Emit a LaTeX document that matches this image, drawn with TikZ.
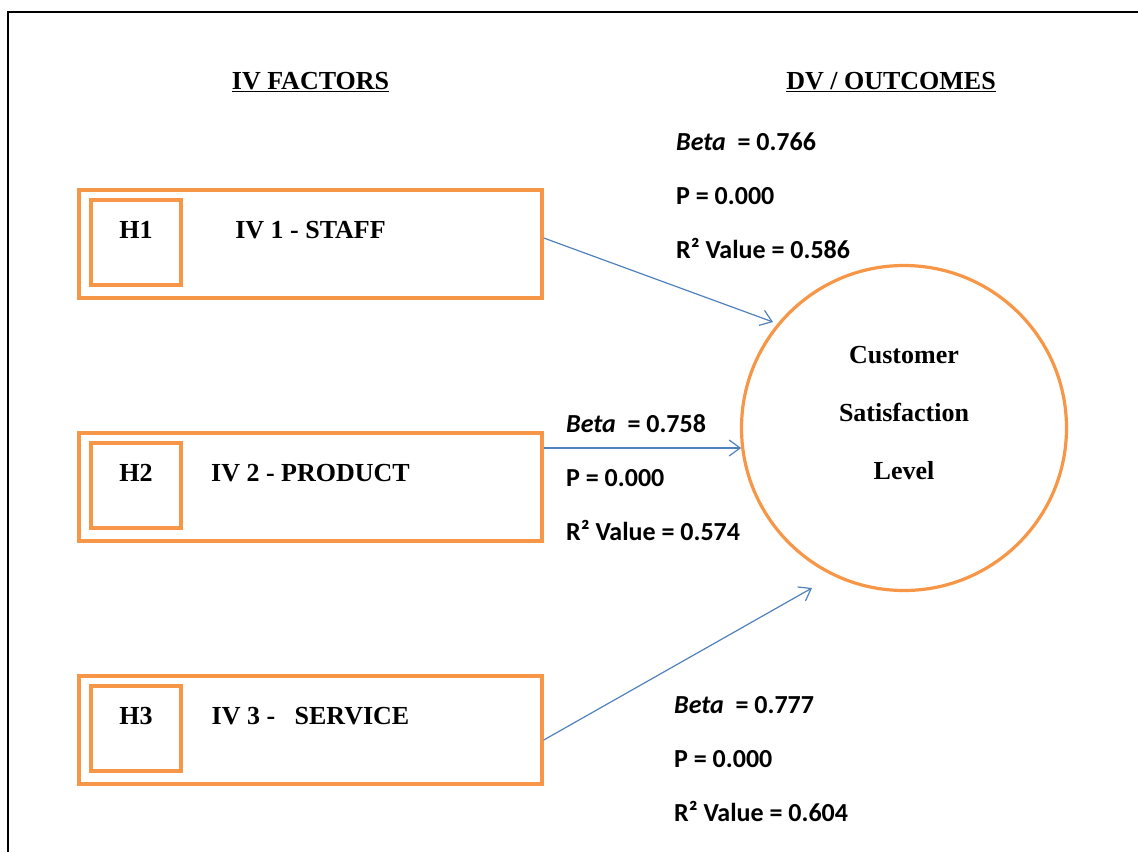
\documentclass[tikz,border=0pt]{standalone}
\usepackage{fontspec}
\setmainfont{Liberation Serif}
\newfontfamily\statfont{Carlito}
\usetikzlibrary{arrows.meta, positioning}
\definecolor{tangerine}{RGB}{247,150,70}
\definecolor{steelblue}{RGB}{79,129,189}

\begin{document}
\begin{tikzpicture} [%
    x = 1pt,
    y = -1pt,
    >= { Straight Barb[length=11pt, width=16pt] },
    node distance = 243pt,
    on grid,
    heading/.style = {%
      font = \bfseries\fontsize{26}{31}\selectfont,
      inner sep = 0pt },
    iv box/.style = {%
      draw = tangerine,
      line width = 3.5pt,
      minimum width = 463pt,
      minimum height = 108pt,
      text height = 18pt,
      text depth = 29pt,
      font = \bfseries\fontsize{26}{31}\selectfont },
    h box/.style = {%
      iv box,
      minimum width = 90pt,
      minimum height = 85pt,
      text depth = 26pt },
    dv/.style = {%
      circle,
      draw = tangerine,
      line width = 3.2pt,
      minimum size = 325pt },
    dv text/.style = {%
      align = center,
      inner sep = 0pt,
      yshift = 14.5pt,
      font = \bfseries\fontsize{26}{58}\selectfont },
    stats/.style = {%
      anchor = west,
      align = left,
      inner sep = 0pt,
      font = \statfont\bfseries\fontsize{26}{54}\selectfont },
    link/.style = {%
      ->,
      draw = steelblue,
      line width = 1.2pt }
  ]

  \useasboundingbox (0,0) rectangle (1138,852);
  \draw[line width=1.5pt] (1138,12) -| (8,852);

  \node[iv box] (iv1) at (310.5,244) {IV 1 - STAFF};
  \node[iv box] (iv2) [below=of iv1] {IV 2 - PRODUCT};
  \node[iv box] (iv3) [below=of iv2] {IV 3 -\ \ \ SERVICE};

  \node[h box] (h1) at ([shift={(-174.5,-1.5)}]iv1.center) {H1};
  \node[h box] (h2) at ([shift={(-174.5,-1.5)}]iv2.center) {H2};
  \node[h box] (h3) at ([shift={(-174.5,-1.5)}]iv3.center) {H3};

  \node[heading] (ivh) [above=162pt of iv1] {\underline{IV FACTORS}};
  \node[heading] (dvh) at (891,82) {\underline{DV / OUTCOMES}};

  \node[dv, label={[dv text]center:Customer\\Satisfaction\\Level}] (csl) at (904,428) {};

  \node[stats] (st1) at (676,196) {\textit{Beta}~ = 0.766\\P = 0.000\\R² Value = 0.586};
  \node[stats] (st2) at (566,478) {\textit{Beta}~ = 0.758\\P = 0.000\\R² Value = 0.574};
  \node[stats] (st3) at (674,759) {\textit{Beta}~ = 0.777\\P = 0.000\\R² Value = 0.604};

  \path
  ([yshift=6pt]iv1.east) edge [link] ([shift={(-131,-106)}]csl.center)
  (iv2.east |- csl.187) edge [link] (csl.187)
  ([yshift=-10pt]iv3.east) edge [link] ([shift={(-92,160)}]csl.center);

\end{tikzpicture}
\end{document}
